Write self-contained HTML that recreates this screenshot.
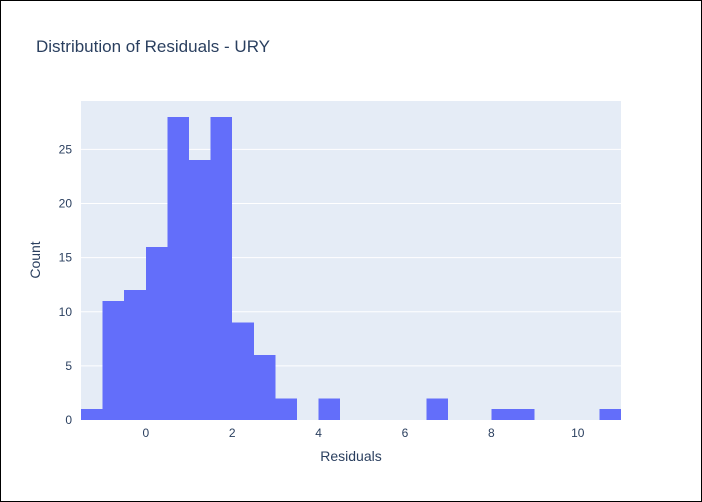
<!DOCTYPE html>
<html><head><meta charset="utf-8"><style>
body{margin:0;background:#fff}
svg{display:block;font-family:"Liberation Sans",sans-serif}
</style></head><body>
<svg id="chart" width="702" height="502">
<rect x="0.5" y="0.5" width="701" height="501" fill="#fff" stroke="#000"/>
<text x="36" y="52" font-size="17" fill="#2a3f5f">Distribution of Residuals - URY</text>
<rect x="81" y="101" width="540" height="319" fill="#e5ecf6"/>
<g id="grid"></g><g id="bars" shape-rendering="crispEdges"></g><g id="ticks"></g>
<text x="351" y="461" font-size="14" fill="#2a3f5f" text-anchor="middle">Residuals</text>
<text transform="translate(40,260) rotate(-90)" font-size="14" fill="#2a3f5f" text-anchor="middle">Count</text>
</svg>
<script>
const binStarts=[-1.5,-1,-0.5,0,0.5,1,1.5,2,2.5,3,3.5,4,4.5,5,5.5,6,6.5,7,7.5,8,8.5,9,9.5,10,10.5];
const counts=[1,11,12,16,28,24,28,9,6,2,0,2,0,0,0,0,2,0,0,1,1,0,0,0,1];
const binWidth=0.5;
const xTicks=[0,2,4,6,8,10];
const yTicks=[0,5,10,15,20,25];
const X0=81,X1=621,Y0=420,Y1=101,xmin=-1.5,xmax=11,ymax=29.47;
const xs=v=>X0+(v-xmin)/(xmax-xmin)*(X1-X0);
const ys=v=>Y0-v/ymax*(Y0-Y1);
const NS="http://www.w3.org/2000/svg";
function mk(t,a,p){const e=document.createElementNS(NS,t);for(const k in a)e.setAttribute(k,a[k]);document.getElementById(p).appendChild(e);return e;}
yTicks.forEach(v=>{
 if(v>0){const l=mk('line',{x1:X0,x2:X1,y1:ys(v),y2:ys(v),stroke:'#fff','stroke-width':1},'grid');
 
 }
 const t=mk('text',{x:X0-9,y:ys(v)+4,'font-size':12,fill:'#2a3f5f','text-anchor':'end'},'ticks');t.textContent=v;
 
 
});
xTicks.forEach(v=>{
 const t=mk('text',{x:xs(v),y:437,'font-size':12,fill:'#2a3f5f','text-anchor':'middle'},'ticks');t.textContent=v;
 
 
});
binStarts.forEach((b,i)=>{
 if(!counts[i])return;
 const r=mk('rect',{x:xs(b),y:ys(counts[i]),width:xs(b+binWidth)-xs(b),height:Y0-ys(counts[i]),fill:'#636efa'},'bars');
 
 
});
</script>
</body></html>
